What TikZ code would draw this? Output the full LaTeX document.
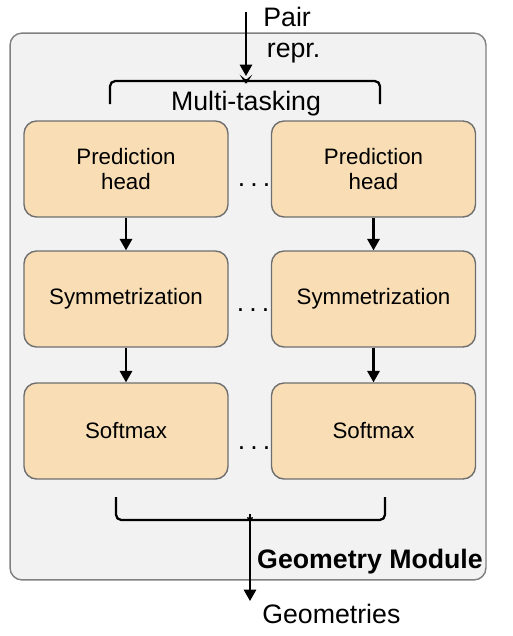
\documentclass[tikz,border=0pt]{standalone}
\usepackage{fontspec}
\setmainfont{Liberation Sans}
\usetikzlibrary{arrows.meta}
\definecolor{headfill}{HTML}{F8DDB5}
\definecolor{boxline}{HTML}{6E6E6E}
\definecolor{modfill}{HTML}{F2F2F2}
\definecolor{modline}{HTML}{808080}
\newcommand{\colgap}{.\kern2.9pt.\kern2.9pt.}
\begin{document}
\begin{tikzpicture}[x=0.02cm, y=-0.02cm,
        module/.style={rectangle, rounded corners=0.24cm, draw=modline, fill=modfill, line width=0.8pt, minimum width=9.52cm, minimum height=10.94cm},
        box/.style={rectangle, rounded corners=0.25cm, draw=boxline, fill=headfill, line width=0.8pt, minimum width=4.08cm, minimum height=1.92cm, align=center, font=\fontsize{12.7}{14.3}\selectfont},
        bigtext/.style={inner sep=0pt, font=\fontsize{15.2}{17.6}\selectfont},
        dots/.style={inner sep=0pt, font=\fontsize{15.2}{17.6}\selectfont},
        arrow/.style={-{Triangle[width=7pt,length=6.5pt]}, line width=1.3pt},
        brace/.style={line width=1.3pt, rounded corners=3pt}
    ]
        \useasboundingbox (0,0) rectangle (512,636);
        \node[module] (module) at (248,306.5) {};
        \node[box] (head1) at (126,169) {Prediction\\head};
        \node[box] (head2) at (373.5,169) {Prediction\\head};
        \node[box] (sym1) at (126,299) {Symmetrization};
        \node[box] (sym2) at (373.5,299) {Symmetrization};
        \node[box] (soft1) at (126,431) {Softmax};
        \node[box] (soft2) at (373.5,431) {Softmax};
        \node[dots] (dots1) at (254,185) {\colgap};
        \node[dots] (dots2) at (253,310) {\colgap};
        \node[dots] (dots3) at (254,448) {\colgap};
        
        \node[bigtext, align=left, anchor=base west] (pair) at (263,57) {Pair\\\hspace*{2pt}repr.};
        \node[bigtext, anchor=base] (multi) at (246,110) {Multi-tasking};
        \node[bigtext, anchor=base, font=\fontsize{15.2}{17.6}\selectfont\bfseries] (title) at (370,568) {Geometry Module};
        \node[bigtext, anchor=base west] (geo) at (262,623) {Geometries};
        
        \coordinate (in) at (246,12);
        \coordinate (split) at (246,76);
        \coordinate (merge) at (250,514);
        \coordinate (out) at (250,601);
        
        % braces
        \draw[brace] (110,104) -- (110,81) -- (240,81) to[out=0,in=-90] (split) to[out=-90,in=180] (252,81) -- (380,81) -- (380,104);
        \draw[brace] (116,497) -- (116,520) -- (244,520) to[out=0,in=-90] (merge) to[out=-90,in=180] (256,520) -- (385,520) -- (385,497);
        
        \draw[arrow] (in) -- (split);
        \draw[arrow] (head1) -- (sym1);
        \draw[arrow] (sym1) -- (soft1);
        \draw[arrow] (head2) -- (sym2);
        \draw[arrow] (sym2) -- (soft2);
        \draw[arrow] (merge) -- (out);
    \end{tikzpicture}
\end{document}
